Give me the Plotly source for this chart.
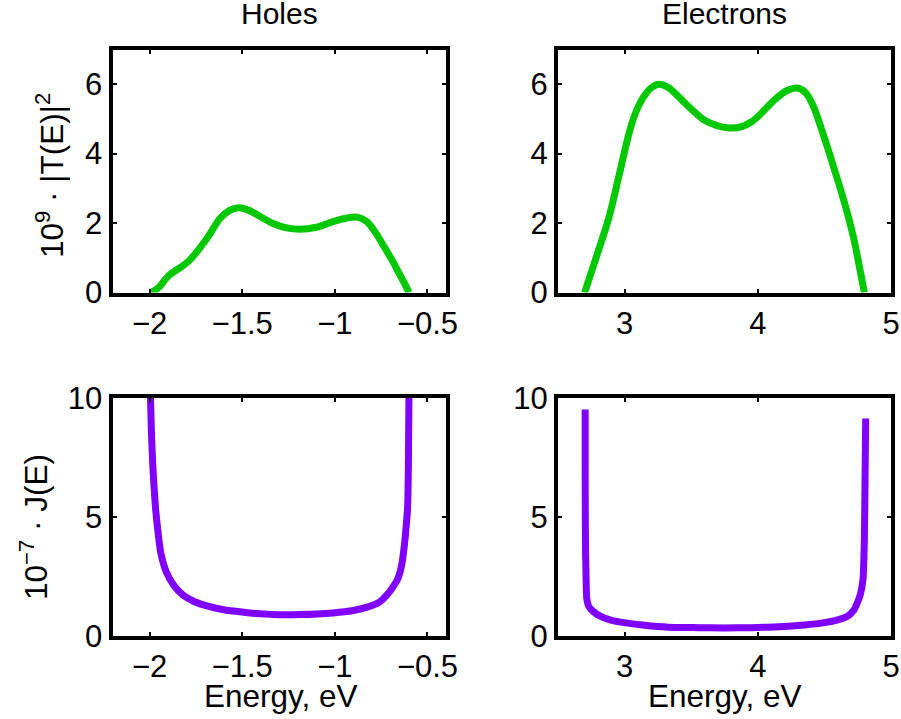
import plotly.graph_objects as go

# Holes: transmission |T(E)|^2 (x1e9) and J(E) (x1e-7)
holes_E_T = [-1.99, -1.95, -1.90, -1.79, -1.69, -1.62, -1.57, -1.52, -1.47, -1.40, -1.33,
             -1.26, -1.19, -1.10, -1.01, -0.94, -0.88, -0.83, -0.78, -0.74, -0.69, -0.65, -0.62, -0.60]
holes_T = [0.0, 0.15, 0.47, 0.90, 1.56, 2.13, 2.36, 2.44, 2.38, 2.18, 1.98,
           1.86, 1.82, 1.88, 2.04, 2.14, 2.17, 2.05, 1.72, 1.37, 0.92, 0.52, 0.22, 0.0]

holes_E_J = [-1.995, -1.99, -1.985, -1.98, -1.97, -1.96, -1.94, -1.91, -1.87, -1.82, -1.76,
             -1.68, -1.60, -1.47, -1.33, -1.19, -1.01, -0.90, -0.83, -0.76, -0.72, -0.69,
             -0.66, -0.64, -0.625, -0.615, -0.607, -0.603, -0.600]
holes_J = [10.0, 8.6, 7.6, 6.83, 5.6, 4.76, 3.52, 2.70, 2.14, 1.72, 1.45,
           1.24, 1.10, 0.98, 0.90, 0.90, 0.97, 1.07, 1.20, 1.42, 1.72, 2.02,
           2.41, 2.95, 3.79, 4.60, 5.45, 7.20, 10.0]

# Electrons
elec_E_T = [2.70, 2.79, 2.88, 2.96, 3.04, 3.09, 3.14, 3.20, 3.26, 3.33, 3.40, 3.46, 3.53,
            3.60, 3.70, 3.79, 3.88, 3.95, 4.01, 4.07, 4.14, 4.22, 4.30, 4.36, 4.42,
            4.47, 4.52, 4.58, 4.63, 4.68, 4.72, 4.76, 4.80]
elec_T = [0.0, 1.05, 2.13, 3.40, 4.68, 5.25, 5.62, 5.90, 6.00, 5.90, 5.66, 5.43, 5.18,
          4.96, 4.80, 4.74, 4.78, 4.91, 5.10, 5.34, 5.60, 5.82, 5.89, 5.75, 5.34,
          4.80, 4.22, 3.48, 2.86, 2.18, 1.56, 0.80, 0.0]

elec_E_J = [2.704, 2.704, 2.705, 2.707, 2.71, 2.716, 2.73, 2.765, 2.82, 2.89, 3.01, 3.15,
            3.33, 3.55, 3.75, 3.95, 4.20, 4.35, 4.49, 4.60, 4.67, 4.72, 4.74, 4.77,
            4.79, 4.80, 4.805, 4.81]
elec_J = [9.52, 7.0, 5.0, 3.6, 2.67, 1.58, 1.25, 1.03, 0.82, 0.68, 0.55, 0.45,
          0.37, 0.35, 0.34, 0.35, 0.40, 0.46, 0.55, 0.68, 0.82, 1.08, 1.30, 1.75,
          2.40, 4.04, 6.5, 9.14]

holes_ticks = [-2, -1.5, -1, -0.5]
holes_ticktext = ["\u22122", "\u22121.5", "\u22121", "\u22120.5"]
elec_ticks = [3, 4, 5]
T_ticks = [0, 2, 4, 6]
J_ticks = [0, 5, 10]

GREEN = "#00C800"
PURPLE = "#7F00FF"
FONT = "Liberation Sans, Arial, sans-serif"
W, H = 901, 719


def px_x(p):
    return p / W


def px_y(p):
    return 1 - p / H


fig = go.Figure()

fig.add_trace(go.Scatter(x=holes_E_T, y=holes_T, mode="lines",
                         line=dict(color=GREEN, width=7, shape="spline"),
                         xaxis="x", yaxis="y", showlegend=False))
fig.add_trace(go.Scatter(x=elec_E_T, y=elec_T, mode="lines",
                         line=dict(color=GREEN, width=7, shape="spline"),
                         xaxis="x2", yaxis="y2", showlegend=False))
fig.add_trace(go.Scatter(x=holes_E_J, y=holes_J, mode="lines",
                         line=dict(color=PURPLE, width=7, shape="spline", smoothing=0.6),
                         xaxis="x3", yaxis="y3", showlegend=False))
fig.add_trace(go.Scatter(x=elec_E_J, y=elec_J, mode="lines",
                         line=dict(color=PURPLE, width=7, shape="spline", smoothing=0.6),
                         xaxis="x4", yaxis="y4", showlegend=False))

common = dict(showline=True, linecolor="black", linewidth=4, mirror="allticks",
              ticks="inside", ticklen=4, tickwidth=2, tickcolor="black",
              showgrid=False, zeroline=False, fixedrange=True, automargin=False,
              tickfont=dict(family=FONT, size=31, color="black"))

xl = [px_x(112.5), px_x(446)]
xr = [px_x(558), px_x(891)]
yt = [px_y(292.5), px_y(49.5)]
yb = [px_y(636), px_y(398)]

fig.update_layout(
    width=W, height=H, autosize=False,
    margin=dict(l=0, r=0, t=0, b=0, pad=0, autoexpand=False),
    paper_bgcolor="white", plot_bgcolor="white", showlegend=False,
    xaxis=dict(domain=xl, range=[-2.2, -0.4], tickvals=holes_ticks,
               ticktext=holes_ticktext, anchor="y", **common),
    yaxis=dict(domain=yt, range=[0, 7], tickvals=T_ticks, anchor="x", **common),
    xaxis2=dict(domain=xr, range=[2.5, 5], tickvals=elec_ticks, anchor="y2", **common),
    yaxis2=dict(domain=yt, range=[0, 7], tickvals=T_ticks, anchor="x2", **common),
    xaxis3=dict(domain=xl, range=[-2.2, -0.4], tickvals=holes_ticks,
                ticktext=holes_ticktext, anchor="y3", **common),
    yaxis3=dict(domain=yb, range=[0, 10], tickvals=J_ticks, anchor="x3", **common),
    xaxis4=dict(domain=xr, range=[2.5, 5], tickvals=elec_ticks, anchor="y4", **common),
    yaxis4=dict(domain=yb, range=[0, 10], tickvals=J_ticks, anchor="x4", **common),
)

title_font = dict(family=FONT, size=30, color="black")
label_font = dict(family=FONT, size=31.5, color="black")
annotations = [
    dict(text="Holes", x=px_x(279), y=px_y(32), xanchor="center", yanchor="bottom", font=title_font),
    dict(text="Electrons", x=px_x(724), y=px_y(32), xanchor="center", yanchor="bottom", font=title_font),
    dict(text="Energy, eV", x=px_x(281), y=px_y(716), xanchor="center", yanchor="bottom", font=label_font),
    dict(text="Energy, eV", x=px_x(724.5), y=px_y(716), xanchor="center", yanchor="bottom", font=label_font),
    dict(text="10<sup>9</sup> \u00b7 |T(E)|<sup>2</sup>", x=px_x(50), y=px_y(176),
         xanchor="center", yanchor="middle", textangle=-90, font=label_font),
    dict(text="10<sup>\u22127</sup> \u00b7 J(E)", x=px_x(34), y=px_y(527),
         xanchor="center", yanchor="middle", textangle=-90, font=label_font),
]
for a in annotations:
    fig.add_annotation(xref="paper", yref="paper", showarrow=False, **a)

fig.write_html("out.html")
